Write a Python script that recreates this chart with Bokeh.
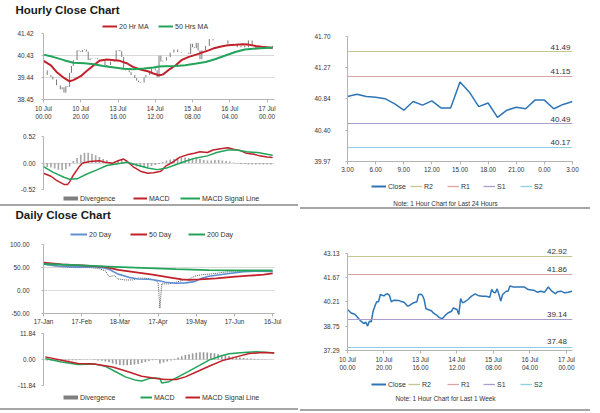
from bokeh.plotting import figure
from bokeh.layouts import row, column
from bokeh.models import Range1d, FixedTicker, NumeralTickFormatter, Legend, LegendItem, Label, Title, Spacer
from bokeh.embed import file_html
from bokeh.resources import INLINE
from bokeh.core.properties import value

# ---------------- data ----------------
# Hourly close (bar index -> close), 10 Jul 00.00 .. 17 Jul 03.00
h_idx = [0,2,4,5,7,9,10,11,12,13,14,15,16,17,18,19,20,21,22,23,24,25,26,28,29,31,33,34,36,38,
         39,40,41,42,43,44,46,47,49,50,51,52,54,55,57,58,60,61,62,63,64,66,68,70,72,74,76,78,79,80,
         81,82,83,84,85,87,88,89,91,94,97,99,102,104,106,108,110,112,114,115,117,119,121,123]
h_close = [39.76,39.55,39.47,39.35,39.09,38.91,39.00,38.76,39.05,39.02,39.65,39.96,40.22,40.22,40.66,40.62,40.58,40.68,40.70,40.60,
           40.22,40.30,40.32,40.30,40.26,40.20,39.96,40.00,40.15,40.22,40.66,40.68,40.62,40.36,39.80,39.76,39.68,39.55,39.41,39.30,
           39.24,39.21,39.45,39.55,39.65,39.85,39.76,39.45,40.42,40.16,40.20,40.36,40.56,40.70,40.58,40.56,40.56,40.50,40.96,40.80,
           40.76,41.00,40.66,40.26,40.66,40.86,40.86,41.17,41.11,41.11,41.11,40.96,40.92,40.80,40.86,40.80,41.11,40.86,40.70,40.82,
           40.86,40.76,40.80,40.86]
h_tick_pos = [0, 20, 40, 60, 80, 100, 120]
h_tick_lab = ["10 Jul\n00.00", "10 Jul\n20.00", "13 Jul\n16.00", "14 Jul\n12.00", "15 Jul\n08.00", "16 Jul\n04.00", "17 Jul\n00.00"]

ma20_idx = [0,4,7,11,14,16,20,23,27,30,34,38,41,45,48,52,56,59,62,64,67,71,74,78,82,85,89,92,96,99,103,107,110,114,117,121,123]
ma20 = [40.19,39.99,39.69,39.42,39.27,39.32,39.50,39.72,39.99,40.19,40.25,40.22,40.19,40.07,39.92,39.80,39.72,39.62,39.54,39.57,
        39.77,39.99,40.22,40.37,40.47,40.56,40.67,40.77,40.85,40.89,40.91,40.94,40.92,40.86,40.82,40.79,40.77]
ma50_idx = [0,5,11,16,22,27,32,38,43,48,54,59,62,65,71,76,82,87,92,98,103,108,114,119,123]
ma50 = [40.47,40.37,40.22,40.10,40.08,40.04,39.96,39.89,39.83,39.81,39.84,39.89,39.93,39.95,39.96,39.99,40.07,40.14,40.26,40.44,
        40.59,40.70,40.74,40.77,40.79]

# Hourly MACD
hmacd_idx = [0,4,7,11,13,14,16,19,21,25,30,33,37,40,43,45,48,52,56,59,63,66,70,73,77,81,84,88,91,95,99,102,106,109,113,116,120,123]
hmacd = [-0.20,-0.26,-0.34,-0.42,-0.42,-0.37,-0.24,-0.08,0.0,0.03,0.045,0.013,-0.006,0.045,0.077,0.03,-0.07,-0.16,-0.20,-0.19,
         -0.16,-0.05,0.03,0.11,0.16,0.19,0.22,0.205,0.256,0.28,0.30,0.27,0.24,0.19,0.17,0.14,0.12,0.11]
hsig_idx = [0,5,11,14,18,23,29,34,39,45,50,56,61,66,72,77,82,88,93,99,104,109,115,120,123]
hsig = [-0.07,-0.18,-0.28,-0.32,-0.31,-0.22,-0.13,-0.05,-0.02,0.013,-0.04,-0.10,-0.13,-0.10,-0.02,0.045,0.10,0.14,0.205,0.256,
        0.256,0.22,0.205,0.17,0.15]
hdiv_idx = list(range(0, 124, 2))
hdiv = [-0.07,-0.08,-0.09,-0.11,-0.13,-0.14,-0.12,-0.07,0.04,0.10,
        0.16,0.20,0.20,0.18,0.15,0.12,0.08,0.06,0.02,0.03,
        0.05,0.06,0.03,-0.02,-0.04,-0.07,-0.08,-0.09,-0.08,-0.06,
        -0.04,-0.02,0.02,0.05,0.07,0.08,0.10,0.11,0.11,0.10,
        0.09,0.10,0.08,0.06,0.05,0.05,0.06,0.06,0.05,0.04,
        0.03,0.01,-0.01,-0.02,-0.02,-0.03,-0.03,-0.03,-0.03,-0.03,
        -0.03,-0.03]

# Daily close and moving averages (trading-day index from 17-Jan)
d_idx = [0,5,10,17,25,30,34,36,39,41,45,49,52,56,60,63,64,65,69,73,76,80,84,87,91,95,98,102,106,110,115,121,126]
d_close = [56.8,53.4,51.3,49.8,49.8,48.3,42.8,30.1,32.2,25.0,22.9,22.9,27.1,26.5,24.0,18.0,-38.5,14.4,14.4,18.0,
           21.9,25.0,32.2,34.3,35.6,37.1,39.2,40.6,40.6,41.3,42.0,42.8,42.8]
d20_idx = [0,8,17,27,32,36,41,47,52,58,63,67,73,78,83,87,91,97,102,110,117,126]
d20 = [57.5,53.4,51.3,51.3,49.8,46.3,35.6,28.6,25.0,24.3,21.9,18.0,15.8,16.5,19.3,26.5,31.0,34.3,37.1,40.6,42.0,41.3]
d50_idx = [0,10,21,34,41,51,60,69,76,80,86,95,104,113,121,126]
d50 = [60.4,56.8,54.6,51.3,44.9,39.4,34.3,28.6,24.0,22.9,24.0,26.5,29.4,32.2,34.3,37.1]
d200_idx = [0,18,36,54,73,91,110,126]
d200 = [57.6,55.0,52.0,49.1,46.3,44.5,43.5,43.5]
d_tick_pos = [0, 21, 42, 63, 84, 105, 126]
d_tick_lab = ["17-Jan", "17-Feb", "18-Mar", "17-Apr", "19-May", "17-Jun", "16-Jul"]

# Daily MACD
dmacd_idx = [1,10,19,28,34,40,45,51,54,58,62,64,65,69,74,80,86,91,97,102,110,117,124,127]
dmacd = [0.45,-1.1,-2.3,-2.1,-3.1,-5.7,-7.9,-9.5,-9.8,-8.7,-8.4,-8.7,-10.7,-10.1,-7.9,-5.3,-2.6,-0.3,1.5,2.6,3.2,3.5,3.2,3.0]
dsig_idx = [1,10,19,28,38,47,54,62,67,73,78,84,91,98,106,113,121,127]
dsig = [1.2,-0.3,-1.8,-2.1,-3.4,-5.7,-7.6,-8.7,-9.1,-9.1,-7.9,-5.7,-3.1,-0.6,1.2,2.7,3.2,3.0]
ddiv_idx = list(range(0, 128, 2))
ddiv = [-0.4,-0.4,-0.5,-0.5,-0.5,-0.5,-0.4,-0.4,-0.3,-0.3,
        -0.2,-0.1,-0.1,0.0,-0.2,-0.4,-0.6,-0.9,-1.3,-1.8,
        -2.2,-2.5,-2.6,-2.6,-2.5,-2.3,-2.0,-1.6,-1.1,-0.7,
        -0.3,0.2,-1.8,-1.4,-0.9,-0.4,0.3,0.9,1.5,2.0,
        2.4,2.8,3.1,3.3,3.3,3.2,3.0,2.8,2.5,2.2,
        1.9,1.6,1.3,1.1,0.9,0.7,0.5,0.4,0.3,0.2,
        0.1,0.1,0.0,0.0]

# Last 24 hours
c24_hour = list(range(25))
c24 = [40.87,40.90,40.87,40.86,40.84,40.77,40.68,40.80,40.75,40.81,40.71,40.71,41.07,40.93,40.73,40.78,40.58,40.68,40.72,40.70,
       40.82,40.82,40.70,40.76,40.80]
c24_tick_pos = [0, 3, 6, 9, 12, 15, 18, 21, 24]
c24_tick_lab = ["3.00", "6.00", "9.00", "12.00", "15.00", "18.00", "21.00", "0.00", "3.00"]

lvl_names = ["R2", "R1", "S1", "S2"]
lvl_24h = [41.49, 41.15, 40.49, 40.17]
lvl_week = [42.92, 41.86, 39.14, 37.48]

# ---------------- style ----------------
FONT = "Liberation Sans"
TXT = "#333333"
AX = "#b4b4b4"
GRID = "#d9d9d9"
SEP = "#a6a6a6"
RED = "#c0212b"
GREEN = "#22a45a"
BLUE = "#2e75b6"
BLUE2 = "#5f8fd3"
DIVC = "#a8a8a8"
LVL_COL = ["#c6c690", "#d9a3a3", "#ab9dc9", "#8fcfe0"]
W = 300
LB, RB = 43, 26      # left column frame borders (shared by every plot of the column)
LB2, RB2 = 47, 28    # right column frame borders
NAN = float("nan")


def style_axis(ax, standoff=3, size="6.4px"):
    ax.axis_line_color = AX
    ax.major_tick_line_color = AX
    ax.minor_tick_line_color = None
    ax.major_tick_in = 0
    ax.major_tick_out = 2
    ax.major_label_text_font = FONT
    ax.major_label_text_font_size = size
    ax.major_label_text_color = TXT
    ax.major_label_standoff = standoff


def base(h, xr, yr, bl, br, bt, bb, yticks, grid=True, xaxis=True, ystand=5):
    p = figure(width=W, height=h, x_range=Range1d(*xr), y_range=Range1d(*yr),
               output_backend="svg", toolbar_location=None, title=None,
               x_axis_location="below" if xaxis else None,
               min_border_left=bl, min_border_right=br, min_border_top=bt, min_border_bottom=bb)
    p.outline_line_color = None
    p.xgrid.visible = False
    if grid:
        p.ygrid.ticker = FixedTicker(ticks=yticks)
        p.ygrid.grid_line_color = GRID
    else:
        p.ygrid.visible = False
    ya = p.yaxis[0]
    ya.ticker = FixedTicker(ticks=yticks)
    ya.formatter = NumeralTickFormatter(format="0.00")
    ya.bounds = (min(yticks), max(yticks))
    style_axis(ya, ystand)
    return p


def set_x(p, pos, labs, standoff=2):
    xa = p.xaxis[0]
    xa.ticker = FixedTicker(ticks=pos)
    xa.major_label_overrides = {k: v for k, v in zip(pos, labs)}
    style_axis(xa, standoff)
    xa.major_tick_out = 3


def strip(h, bl, br, bt=0):
    s = figure(width=W, height=h, output_backend="svg", toolbar_location=None, title=None,
               x_axis_location=None, y_axis_location=None,
               min_border_left=bl, min_border_right=br, min_border_top=bt, min_border_bottom=0,
               x_range=Range1d(0, 1), y_range=Range1d(0, 1))
    s.grid.visible = False
    s.outline_line_color = None
    return s


def sep(w):
    return Spacer(width=w, height=2, styles={"background-color": SEP})


def leg(p, label, color, x, y, gw=15, lw=2):
    r = p.line(x=[NAN, NAN], y=[NAN, NAN], line_color=color, line_width=lw)
    L = Legend(items=[LegendItem(label=label, renderers=[r])], location=(x, y),
               orientation="horizontal", padding=0, margin=0, spacing=0,
               glyph_width=gw, glyph_height=8, label_height=8, label_width=0,
               label_standoff=2, border_line_color=None, background_fill_alpha=0,
               label_text_font=FONT, label_text_font_size="7px", label_text_color=TXT)
    p.add_layout(L, "center")


def note(p, text, x, y):
    p.add_layout(Label(x=x, y=y, x_units="screen", y_units="screen", text=text,
                       text_font=FONT, text_font_size="6.4px", text_color=TXT,
                       text_align="center", text_baseline="middle"))


def heading(p, text, offset):
    p.add_layout(Title(text=text, align="left", offset=offset, standoff=0,
                       text_font=FONT, text_font_size="11.5px", text_font_style="bold",
                       text_color="#1a1a1a"), "above")


# ---- hourly: title / legend strip ----
t1 = strip(30, LB, RB, bt=15)
heading(t1, "Hourly Close Chart", -28)
leg(t1, "20 Hr MA", RED, 59, 0)
leg(t1, "50 Hrs MA", GREEN, 115, 0)

# ---- F1 hourly close with MAs ----
f1 = base(98, (0, 124), (38.45, 41.42), LB, RB, 3, 29, [38.45, 39.44, 40.43, 41.42], ystand=8)
set_x(f1, h_tick_pos, h_tick_lab)
f1.segment(x0=h_idx[1:], y0=h_close[:-1], x1=h_idx[1:], y1=h_close[1:], line_color="#7a7a7a", line_width=1)
f1.line(ma20_idx, ma20, line_color=RED, line_width=2)
f1.line(ma50_idx, ma50, line_color=GREEN, line_width=2)

# ---- F2 hourly MACD ----
f2 = base(65, (0, 124), (-0.52, 0.52), LB, RB, 8, 4, [-0.52, 0.0, 0.52], xaxis=False, ystand=6)
f2.vbar(x=hdiv_idx, top=hdiv, bottom=0, width=0.9, fill_color=DIVC, line_color=None)
f2.line(hmacd_idx, hmacd, line_color=RED, line_width=1.5)
f2.line(hsig_idx, hsig, line_color=GREEN, line_width=1.5)

l2 = strip(11, LB, RB)
leg(l2, "Divergence", "#7f7f7f", 20, 2, lw=4)
leg(l2, "MACD", RED, 90, 2, gw=14)
leg(l2, "MACD Signal Line", GREEN, 137, 2, gw=20)

# ---- daily: title / legend strip ----
t3 = strip(34, LB, RB, bt=14)
heading(t3, "Daily Close Chart", -28)
leg(t3, "20 Day", BLUE2, 27, 2, gw=17)
leg(t3, "50 Day", RED, 87, 2, gw=17)
leg(t3, "200 Day", GREEN, 145, 2, gw=17)

# ---- F3 daily ----
f3 = base(87, (0, 127), (-50, 100), LB, RB, 4, 12, [-50, 0, 50, 100], ystand=12)
set_x(f3, d_tick_pos, d_tick_lab, standoff=1)
f3.line(d_idx, d_close, line_color="#555555", line_width=1, line_dash="1 1")
f3.line(d20_idx, d20, line_color=BLUE2, line_width=1.6)
f3.line(d50_idx, d50, line_color=RED, line_width=1.8)
f3.line(d200_idx, d200, line_color=GREEN, line_width=1.8)

# ---- F4 daily MACD ----
f4 = base(62, (0, 127), (-11.84, 11.84), LB, RB, 6, 4, [-11.84, 0.0, 11.84], xaxis=False, ystand=6)
f4.vbar(x=ddiv_idx, top=ddiv, bottom=0, width=0.9, fill_color="#9a9a9a", line_color=None)
f4.line(dmacd_idx, dmacd, line_color=GREEN, line_width=1.5)
f4.line(dsig_idx, dsig, line_color=RED, line_width=1.5)

l4 = strip(19, LB, RB)
leg(l4, "Divergence", "#7f7f7f", 20, 7, lw=4)
leg(l4, "MACD", GREEN, 97, 7, gw=12)
leg(l4, "MACD Signal Line", RED, 142, 7, gw=15)

# ---- G1 last 24 hours ----
g1 = base(175, (0, 24), (39.97, 41.70), LB2, RB2, 36, 14, [39.97, 40.40, 40.84, 41.27, 41.70], grid=False, ystand=15)
set_x(g1, c24_tick_pos, c24_tick_lab)
g1.line(c24_hour, c24, line_color=BLUE, line_width=1.5)
for v, c in zip(lvl_24h, LVL_COL):
    g1.hspan(y=[v], line_color=c, line_width=1.2)
g1.text(x=[c24_hour[-1]] * len(lvl_24h), y=lvl_24h, text=[f"{v:.2f}" for v in lvl_24h],
        text_font=value(FONT), text_font_size="8px", text_color=TXT,
        text_align="right", text_baseline="bottom", x_offset=-2, y_offset=-2)

lg1 = strip(32, LB2, RB2)
leg(lg1, "Close", BLUE, 24, 17, gw=15)
for nm, c, x in zip(lvl_names, LVL_COL, [63, 100, 136, 173]):
    leg(lg1, nm, c, x, 17, gw=12, lw=1.3)
note(lg1, "Note: 1 Hour Chart for Last 24 Hours", 98, 4)

# ---- G2 last week hourly ----
g2 = base(165, (0, 123.3), (37.29, 43.55), LB2, RB2, 37, 24, [37.29, 38.75, 40.21, 41.67, 43.13], grid=False, ystand=6)
set_x(g2, h_tick_pos, h_tick_lab)
g2.line(h_idx, h_close, line_color=BLUE, line_width=1.5)
for v, c in zip(lvl_week, LVL_COL):
    g2.hspan(y=[v], line_color=c, line_width=1.2)
g2.text(x=[h_idx[-1]] * len(lvl_week), y=lvl_week, text=[f"{v:.2f}" for v in lvl_week],
        text_font=value(FONT), text_font_size="8px", text_color=TXT,
        text_align="right", text_baseline="bottom", x_offset=-5, y_offset=-3)

lg2 = strip(35, LB2, RB2)
leg(lg2, "Close", BLUE, 24, 21, gw=15)
for nm, c, x in zip(lvl_names, LVL_COL, [61, 100, 136, 173]):
    leg(lg2, nm, c, x, 21, gw=12, lw=1.3)
note(lg2, "Note: 1 Hour Chart for Last 1 Week", 98, 11)

left = column(t1, f1, f2, l2, sep(298), t3, f3, f4, l4, sep(298))
right = column(g1, lg1, sep(290), g2, lg2, sep(290))
page = row(left, right)

open("out.html", "w").write(file_html(page, INLINE))
